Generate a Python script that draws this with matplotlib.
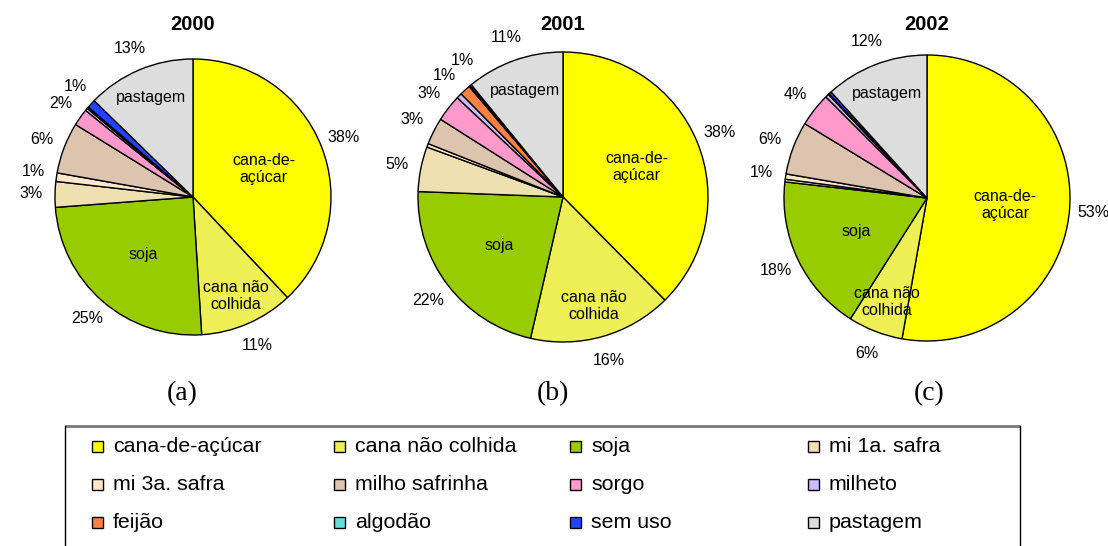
import numpy as np
import matplotlib
matplotlib.use('Agg')
import matplotlib.pyplot as plt
from matplotlib.patches import Rectangle

plt.rcParams['font.family'] = ['Liberation Sans', 'DejaVu Sans']

# land use categories, in the order the slices run (clockwise from the top)
categories = ['cana-de-açúcar', 'cana não colhida', 'soja', 'mi 1a. safra',
              'mi 3a. safra', 'milho safrinha', 'sorgo', 'milheto',
              'feijão', 'algodão', 'sem uso', 'pastagem']
colors = ['#FFFF00', '#EEEE55', '#99CC00', '#EEE0B0', '#FFE6CC', '#DCC4AE',
          '#FF99CC', '#CCBBFF', '#FF8040', '#66DDDD', '#2244FF', '#DDDDDD']

years = ['2000', '2001', '2002']
panel_tags = ['(a)', '(b)', '(c)']

# area share (%) per year
share_2000 = [38.0, 11.0, 24.8, 3.0, 1.0, 6.0, 2.0, 0.3, 0.1, 0.1, 1.0, 12.7]
share_2001 = [37.6, 16.0, 22.0, 5.0, 0.4, 3.0, 3.0, 0.6, 1.2, 0.1, 0.2, 10.9]
share_2002 = [52.8, 6.2, 17.8, 0.3, 0.6, 6.0, 3.8, 0.4, 0.0, 0.1, 0.3, 11.7]
shares = [share_2000, share_2001, share_2002]

# names written inside the big slices: (text, radial position as fraction of r)
inner_text = {0: ('cana-de-\naçúcar', 0.55), 1: ('cana não\ncolhida', 0.78),
              2: ('soja', 0.55), 11: ('pastagem', 0.78)}

W, H = 1108, 546
centers = [(193, 197), (563, 197), (927, 198)]
radii = [138, 145, 143]
tag_x = [182, 553, 929]
min_sep = 8.0  # degrees between neighbouring percent labels

fig = plt.figure(figsize=(W / 100, H / 100), dpi=100)
ax = fig.add_axes([0, 0, 1, 1])

for k, year in enumerate(years):
    cx, cy = centers[k]
    cy = H - cy
    r = radii[k]
    wedges, _ = ax.pie(shares[k], colors=colors, startangle=90, counterclock=False,
                       center=(cx, cy), radius=r,
                       wedgeprops=dict(edgecolor='black', linewidth=1.0))

    # percent labels: mid-angle measured clockwise from the top, spread apart if crowded
    labels = []
    for i, (v, w) in enumerate(zip(shares[k], wedges)):
        mid = (w.theta1 + w.theta2) / 2
        cw = (90 - mid) % 360
        if v >= 0.5:
            labels.append([cw, f'{round(v):.0f}%'])
        if i in inner_text:
            txt, f = inner_text[i]
            th = np.deg2rad(mid)
            ax.text(cx + f * r * np.cos(th), cy + f * r * np.sin(th), txt,
                    ha='center', va='center', fontsize=11.5, linespacing=1.2)
    labels.sort()
    for j in range(1, len(labels)):
        if labels[j][0] < labels[j - 1][0] + min_sep:
            labels[j][0] = labels[j - 1][0] + min_sep
    for cw, txt in labels:
        th = np.deg2rad(90 - cw)
        ax.text(cx + 1.17 * r * np.cos(th), cy + 1.17 * r * np.sin(th), txt,
                ha='center', va='center', fontsize=11.5)

    ax.text(cx, H - 24, year, ha='center', va='center', fontsize=14.5, fontweight='bold')
    ax.text(tag_x[k], H - 394, panel_tags[k], ha='center', va='center',
            fontsize=20, family='Liberation Serif')

# legend box, open at the bottom edge
top = H - 426
ax.plot([65, 1020], [top, top], color='#777777', lw=2, solid_capstyle='butt')
ax.plot([65, 65], [top, -5], color='black', lw=1)
ax.plot([1020, 1020], [top, -5], color='black', lw=1)

col_x = [92, 334, 570, 808]
row_y = [446, 484, 522]
for i, (name, c) in enumerate(zip(categories, colors)):
    x = col_x[i % 4]
    y = H - row_y[i // 4]
    ax.add_patch(Rectangle((x, y - 5.5), 11, 11, facecolor=c, edgecolor='black', lw=1))
    ax.text(x + 21, y, name, ha='left', va='center', fontsize=15.4)

ax.set_xlim(0, W)
ax.set_ylim(0, H)
ax.set_aspect('auto')
ax.axis('off')

fig.savefig('out.png', dpi=100, facecolor='white')
